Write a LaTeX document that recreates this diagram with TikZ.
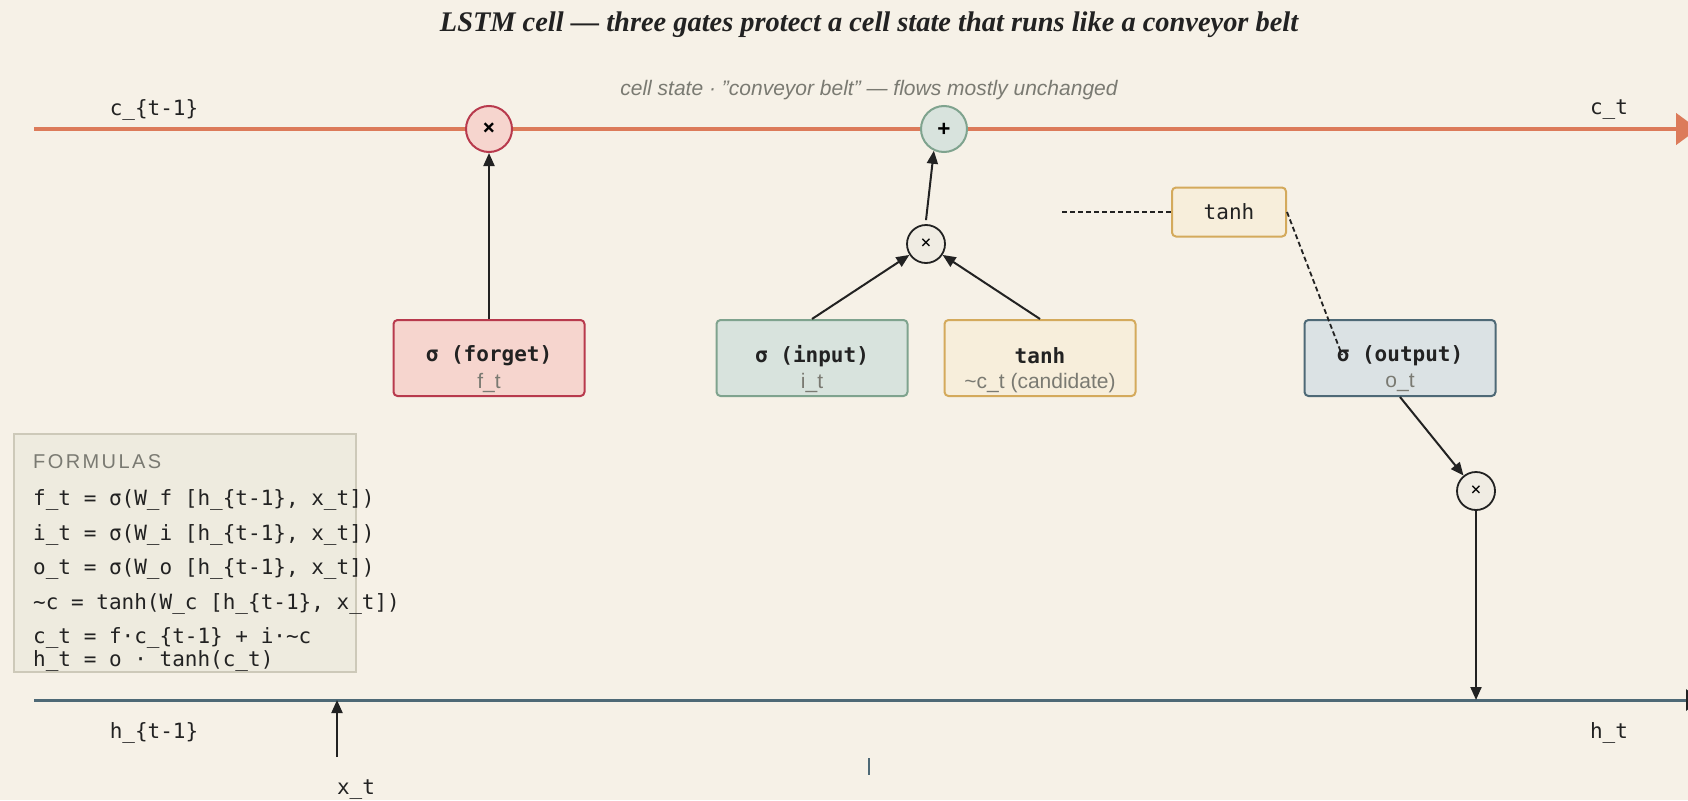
\documentclass[tikz,border=0pt]{standalone}
\usepackage{fontspec}
\setmainfont{Liberation Serif}
\setsansfont{Liberation Sans}
\setmonofont{DejaVu Sans Mono}
\usetikzlibrary{arrows.meta}

\definecolor{paper}{HTML}{F6F1E7}
\definecolor{belt}{HTML}{DC7B5A}
\definecolor{hid}{HTML}{4E6976}
\definecolor{forgetdraw}{HTML}{B83A4D}
\definecolor{forgetfill}{HTML}{F6D5CE}
\definecolor{inputdraw}{HTML}{7FA38E}
\definecolor{inputfill}{HTML}{D8E3DD}
\definecolor{canddraw}{HTML}{D4AA5C}
\definecolor{candfill}{HTML}{F7EEDB}
\definecolor{outfill}{HTML}{DBE2E4}
\definecolor{opfill}{HTML}{F0ECE3}
\definecolor{fboxfill}{HTML}{EEEBDF}
\definecolor{fboxdraw}{HTML}{CDC9B9}
\definecolor{note}{HTML}{7A7A72}
\definecolor{ink}{HTML}{222222}

\tikzset{
  gate/.style={draw, line width=2pt, rounded corners=4pt, minimum width=191pt, minimum height=76pt, inner sep=0pt},
  op/.style={circle, draw=ink, line width=1.8pt, fill=opfill, minimum size=38pt, inner sep=0pt, font=\ttfamily\fontsize{18}{20}\selectfont},
  bigop/.style={circle, line width=2pt, minimum size=46pt, inner sep=0pt, font=\ttfamily\bfseries\fontsize{21}{24}\selectfont},
  arr/.style={-{Triangle[length=13pt,width=11pt]}, line width=2pt, draw=ink},
  mono/.style={font=\ttfamily\fontsize{21}{25}\selectfont, text=ink, inner sep=0pt},
  gatelab/.style={font=\ttfamily\bfseries\fontsize{21}{25}\selectfont, text=ink, inner sep=0pt},
  gatesub/.style={font=\sffamily\fontsize{21}{25}\selectfont, text=note, inner sep=0pt},
  formula/.style={mono, anchor=west},
  link/.style={line width=1.8pt, draw=ink, dash pattern=on 5pt off 3pt}
}

\begin{document}
\begin{tikzpicture}[x=1pt, y=-1pt]
\fill[paper] (0,0) rectangle (1688,800);
\useasboundingbox (0,0) rectangle (1688,800);

\coordinate (cin) at (34,129);
\coordinate (cout) at (1698,129);
\coordinate (hin) at (34,700);
\coordinate (hout) at (1702,700);
\coordinate (xin) at (337,757);
\coordinate (xjoin) at (337,700);
\coordinate (hjoin) at (1476,700);
\coordinate (tick1) at (869,758);
\coordinate (tick2) at (869,775);
\coordinate (dashl) at (1062,212);
\coordinate (dashe) at (1342,355);

% cell state and hidden state lines
\draw[belt, line width=4.7pt, -{Triangle[length=22pt,width=31pt]}] (cin) -- (cout);
\draw[hid, line width=3pt, -{Triangle[length=16pt,width=21pt,color=ink]}] (hin) -- (hout);
\draw[hid, line width=1.5pt] (tick1) -- (tick2);

% formula panel
\node[draw=fboxdraw, fill=fboxfill, line width=1.5pt, minimum width=342pt, minimum height=238pt] (formulas) at (185,553) {};

% gates
\node[gate, draw=forgetdraw, fill=forgetfill] (fg) at (489,358) {};
\node[gate, draw=inputdraw, fill=inputfill] (ig) at (812,358) {};
\node[gate, draw=canddraw, fill=candfill] (cg) at (1040,358) {};
\node[gate, draw=hid, fill=outfill] (og) at (1400,358) {};
\node[draw=canddraw, fill=candfill, line width=2pt, rounded corners=4pt, minimum width=114pt, minimum height=49pt, mono] (tanhc) at (1229,212) {tanh};

% pointwise operations
\node[bigop, draw=forgetdraw, fill=forgetfill] (mulf) at (489,129) {×};
\node[bigop, draw=inputdraw, fill=inputfill] (add) at (944,129) {+};
\node[op] (muli) at (926,244) {×};
\node[op] (mulo) at (1476,491) {×};

\draw[arr] (fg.north) -- (mulf.south);
\draw[arr] (ig.north) -- (muli);
\draw[arr] (cg.north) -- (muli);
\draw[arr] ([yshift=4pt]muli.north) -- (add.245);
\draw[arr] (og.south) -- (mulo);
\draw[arr] (mulo.south) -- (hjoin);
\draw[arr] (xin) -- (xjoin);
\draw[link] (dashl) -- (tanhc.west);
\draw[link] (tanhc.east) -- (dashe);

\node[gatelab] (fglab) at (489,356) {σ (forget)};
\node[gatesub] (fgsub) at (489,383) {f\_t};
\node[gatelab] (iglab) at (812,356) {σ (input)};
\node[gatesub] (igsub) at (812,383) {i\_t};
\node[gatelab] (cglab) at (1040,356) {tanh};
\node[gatesub] (cgsub) at (1040,383) {\textasciitilde c\_t (candidate)};
\node[gatelab] (oglab) at (1400,356) {σ (output)};
\node[gatesub] (ogsub) at (1400,383) {o\_t};

\node[font=\bfseries\itshape\fontsize{28.4}{32}\selectfont, text=ink] (title) at (869,25) {LSTM cell — three gates protect a cell state that runs like a conveyor belt};
\node[font=\sffamily\itshape\fontsize{21}{24}\selectfont, text=note] (beltnote) at (869,90) {cell state · "conveyor belt" — flows mostly unchanged};

\node[mono] (cprev) at (154,110) {c\_\{t-1\}};
\node[mono] (cnext) at (1609,110) {c\_t};
\node[mono] (hprev) at (154,733) {h\_\{t-1\}};
\node[mono] (hnext) at (1609,733) {h\_t};
\node[mono] (xt) at (356,790) {x\_t};

\node[anchor=west, font=\sffamily\fontsize{20}{24}\selectfont\addfontfeature{LetterSpace=12}, text=note, inner sep=0pt] (ftitle) at (33,462) {FORMULAS};
\node[formula] (f1) at (33,500) {f\_t = σ(W\_f [h\_\{t-1\}, x\_t])};
\node[formula] (f2) at (33,535) {i\_t = σ(W\_i [h\_\{t-1\}, x\_t])};
\node[formula] (f3) at (33,569) {o\_t = σ(W\_o [h\_\{t-1\}, x\_t])};
\node[formula] (f4) at (33,604) {\textasciitilde c = tanh(W\_c [h\_\{t-1\}, x\_t])};
\node[formula] (f5) at (33,638) {c\_t = f·c\_\{t-1\} + i·\textasciitilde c};
\node[formula] (f6) at (33,661) {h\_t = o · tanh(c\_t)};
\end{tikzpicture}
\end{document}
